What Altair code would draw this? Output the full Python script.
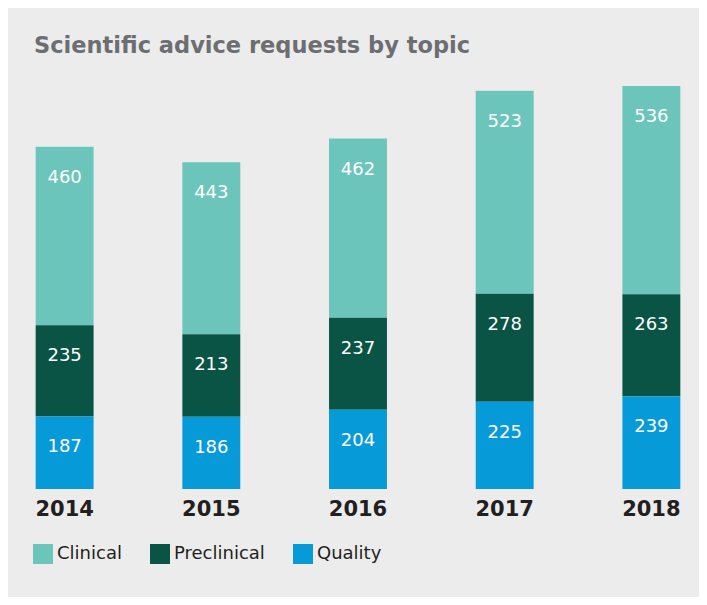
import altair as alt
import pandas as pd

years = ["2014", "2015", "2016", "2017", "2018"]
clinical = [460, 443, 462, 523, 536]
preclinical = [235, 213, 237, 278, 263]
quality = [187, 186, 204, 225, 239]
topics = ["Clinical", "Preclinical", "Quality"]
colors = ["#6cc5bb", "#0a5446", "#079ad8"]
stack_rank = {"Quality": 0, "Preclinical": 1, "Clinical": 2}

rows = []
for i, y in enumerate(years):
    for t, vals in zip(topics, [clinical, preclinical, quality]):
        rows.append({"year": y, "topic": t, "value": vals[i], "ord": stack_rank[t]})
df = pd.DataFrame(rows)

FONT = "DejaVu Sans"

base = alt.Chart(df).transform_stack(
    stack="value", groupby=["year"], as_=["v0", "v1"],
    sort=[alt.SortField("ord", order="ascending")]
)

x_enc = alt.X("year:N", sort=years, title=None,
              scale=alt.Scale(paddingInner=0.605, paddingOuter=0.1),
              axis=alt.Axis(labelFont=FONT, labelFontSize=21, labelFontWeight="bold",
                            labelColor="#231f20", ticks=False, domain=False,
                            labelPadding=9, labelAngle=0))
y_scale = alt.Scale(domain=[0, 1095])

bars = base.mark_bar().encode(
    x=x_enc,
    y=alt.Y("v0:Q", scale=y_scale, axis=None),
    y2="v1:Q",
    color=alt.Color("topic:N", scale=alt.Scale(domain=topics, range=colors),
                    legend=alt.Legend(title=None, orient="none", direction="horizontal",
                                      legendX=12, legendY=480,
                                      symbolType="square", symbolSize=400,
                                      symbolStrokeWidth=0, symbolOpacity=1,
                                      labelFont=FONT, labelFontSize=18,
                                      labelColor="#231f20", labelOffset=4,
                                      columnPadding=28)),
)

labels = base.mark_text(font=FONT, fontSize=18, color="white", dy=31,
                        baseline="middle").encode(
    x=alt.X("year:N", sort=years),
    y=alt.Y("v1:Q", scale=y_scale),
    text="value:Q",
)

chart = alt.layer(bars, labels).properties(
    width=674, height=425,
    padding={"left": 13, "top": 56, "right": 4, "bottom": 108},
    autosize=alt.AutoSizeParams(type="none"),
    background="#ececec",
    title=alt.Title("Scientific advice requests by topic", anchor="start", dx=13,
                    font=FONT, fontSize=22.5, fontWeight="bold", color="#6d6e71",
                    offset=7),
).configure_view(stroke=None)

chart.save("out.html", embed_options={"renderer": "svg", "actions": False})
